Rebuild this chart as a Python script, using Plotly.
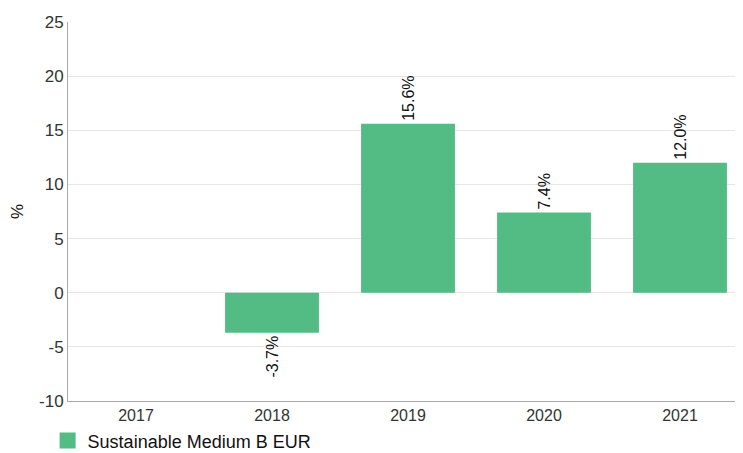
import plotly.graph_objects as go

categories = ["2017", "2018", "2019", "2020", "2021"]
values = [None, -3.7, 15.6, 7.4, 12.0]
labels = ["", "-3.7%", "15.6%", "7.4%", "12.0%"]
series_name = "Sustainable Medium B EUR"
y_ticks = [-10, -5, 0, 5, 10, 15, 20, 25]
y_tick_text = ["-10", "-5", "0", "5", "10", "15", "20", "25"]

color = "#52bc84"
fig = go.Figure()
fig.add_trace(go.Bar(
    x=categories, y=values, name=series_name, showlegend=False,
    marker=dict(color=color, line=dict(width=0)),
    text=labels, textposition="outside", textangle=-90,
    textfont=dict(size=16, color="#111111", family="Liberation Sans, Arial"),
    cliponaxis=False,
))
fig.add_trace(go.Scatter(
    x=[None], y=[None], mode="markers", name=series_name, showlegend=True,
    marker=dict(symbol="square", size=18, color=color),
))
fig.update_layout(
    width=740, height=445,
    margin=dict(l=60, r=0, t=14, b=52, autoexpand=False),
    plot_bgcolor="white", paper_bgcolor="white",
    font=dict(family="Liberation Sans, Arial", size=16, color="#333333"),
    bargap=0.31,
    showlegend=True,
    legend=dict(orientation="h", x=-0.03, xanchor="left", y=-0.105, yanchor="middle",
                font=dict(size=18, color="#111111"), itemsizing="trace"),
    xaxis=dict(showline=True, linecolor="#aaaaaa", linewidth=1, ticks="", automargin=False,
               tickfont=dict(size=16, color="#333333"), fixedrange=True),
    yaxis=dict(range=[-10, 25], tickvals=y_ticks, ticktext=y_tick_text, showgrid=True,
               gridcolor="#e6e6e6", automargin=False,
               zeroline=False, showline=True, linecolor="#aaaaaa", linewidth=1,
               tickfont=dict(size=17, color="#333333"),
               title=dict(text="%", font=dict(size=17, color="#111111"), standoff=20)),
)
fig.write_html("out.html")
